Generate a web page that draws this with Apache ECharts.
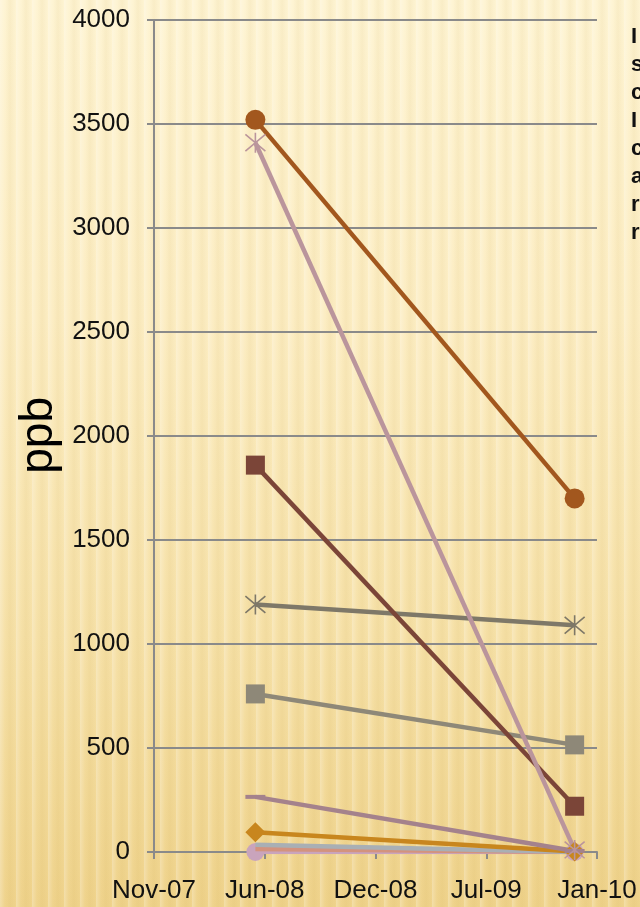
<!DOCTYPE html>
<html>
<head>
<meta charset="utf-8">
<script src="https://cdn.jsdelivr.net/npm/echarts@6/dist/echarts.min.js"></script>
<style>
  html, body { margin: 0; padding: 0; width: 640px; height: 907px; overflow: hidden; }
  body {
    background:
      repeating-linear-gradient(90deg,
        rgba(255,255,255,0.25) 0px, rgba(255,255,255,0) 5px,
        rgba(190,150,50,0.08) 10px, rgba(255,255,255,0) 16px),
      linear-gradient(180deg, #FEF4D3 0%, #FCEDC3 35%, #F6E1A8 70%, #EFD38C 100%);
  }
  #chart { width: 640px; height: 907px; }
</style>
</head>
<body>
<div id="chart"></div>
<script>
// Axis setup: date axis measured in days from its first tick
const axisStart = '2007-11-01';
const tickLabels = ['Nov-07', 'Jun-08', 'Dec-08', 'Jul-09', 'Jan-10'];
const tickStepDays = 213;

// Two sampling dates
const sampleDates = ['2008-05-14', '2010-01-18'];

// Concentrations (ppb) at each sampling date
const seriesNames = ['S1', 'S2', 'S3', 'S4', 'S5', 'S6', 'S7', 'S8', 'S9', 'S10'];
const s1 = [3520, 1700];
const s2 = [3410, 10];
const s3 = [1860, 220];
const s4 = [1190, 1090];
const s5 = [760, 515];
const s6 = [265, 5];
const s7 = [95, 2];
const s8 = [35, 0];
const s9 = [15, 0];
const s10 = [0, 0];

// Right-hand text block, mostly outside the visible area
const sideLetters = ['I', 's', 'c', 'I', 'c', 'a', 'r', 'r'];

const dayMs = 86400000;
const t0 = Date.parse(axisStart + 'T00:00:00Z');
const xDays = sampleDates.map(d => Math.round((Date.parse(d + 'T00:00:00Z') - t0) / dayMs));

const asterisk = 'path://M0,0L20,20M20,0L0,20M10,-2L10,22';
const FONT = '"Liberation Sans", Arial, sans-serif';

function mk(name, vals, color, symbol, symbolSize, extra) {
  const s = {
    name: name,
    type: 'line',
    data: vals.map((v, i) => [xDays[i], v]),
    symbol: symbol,
    symbolSize: symbolSize,
    showSymbol: symbol !== 'none',
    lineStyle: { color: color, width: 4.5 },
    itemStyle: { color: color },
    emphasis: { disabled: true },
    animation: false
  };
  return Object.assign(s, extra || {});
}

const starStyle = c => ({ itemStyle: { color: c, borderColor: c, borderWidth: 1.6 } });

const series = [
  mk(seriesNames[9], s10, '#C9A4BC', 'circle', 18, { z: 1 }),
  mk(seriesNames[8], s9, '#D3937E', 'none', 0),
  mk(seriesNames[7], s8, '#A9AFB4', 'none', 0),
  mk(seriesNames[6], s7, '#C8861E', 'diamond', 20),
  mk(seriesNames[5], s6, '#A4828C', 'rect', [20, 4]),
  mk(seriesNames[4], s5, '#8E8878', 'rect', 19),
  mk(seriesNames[3], s4, '#7E7868', asterisk, 20, starStyle('#7E7868')),
  mk(seriesNames[2], s3, '#7B4538', 'rect', 19),
  mk(seriesNames[1], s2, '#BA959C', asterisk, 20, starStyle('#BA959C')),
  mk(seriesNames[0], s1, '#A2571E', 'circle', 20)
];

const chart = echarts.init(document.getElementById('chart'), null, { renderer: 'canvas' });

const graphic = sideLetters.map((ch, i) => ({
  type: 'text',
  left: 631,
  top: 26 + i * 28,
  style: { text: ch, fill: '#111', font: 'bold 22px ' + FONT }
}));
graphic.push({
  type: 'text',
  left: 16,
  top: 397,
  rotation: Math.PI / 2,
  style: { text: 'ppb', fill: '#000', font: '46px ' + FONT }
});

chart.setOption({
  backgroundColor: 'transparent',
  animation: false,
  grid: { left: 154, right: 43, top: 20, bottom: 55, containLabel: false },
  xAxis: {
    type: 'value',
    min: 0,
    max: tickStepDays * (tickLabels.length - 1),
    interval: tickStepDays,
    axisLine: { show: true, lineStyle: { color: '#8A8A8A', width: 2 } },
    axisTick: { show: true, length: 7, lineStyle: { color: '#8A8A8A', width: 2 } },
    splitLine: { show: false },
    axisLabel: {
      margin: 26,
      color: '#111',
      fontSize: 26,
      fontFamily: FONT,
      formatter: v => tickLabels[Math.round(v / tickStepDays)] || ''
    }
  },
  yAxis: {
    type: 'value',
    min: 0,
    max: 4000,
    interval: 500,
    axisLine: { show: true, lineStyle: { color: '#8A8A8A', width: 2 } },
    axisTick: { show: true, length: 7, lineStyle: { color: '#8A8A8A', width: 2 } },
    splitLine: { show: true, lineStyle: { color: '#8A8A8A', width: 2 } },
    axisLabel: {
      margin: 24,
      color: '#111',
      fontSize: 26,
      fontFamily: FONT,
      formatter: v => String(v)
    }
  },
  graphic: graphic,
  series: series
});
</script>
</body>
</html>
